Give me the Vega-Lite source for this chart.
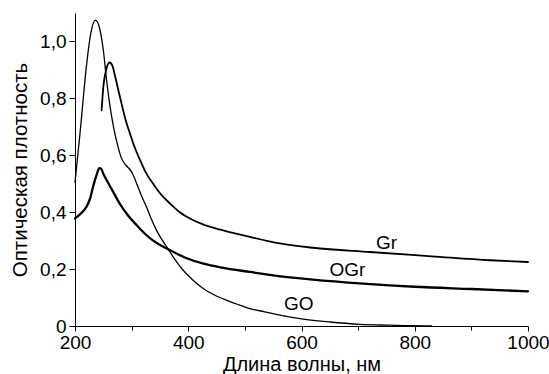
{
  "$schema": "https://vega.github.io/schema/vega-lite/v6.json",
  "width": 453,
  "height": 313,
  "autosize": {"type": "none"},
  "padding": {"left": 75, "top": 13, "right": 21, "bottom": 48},
  "background": "white",
  "config": {
    "view": {"stroke": null},
    "font": "Liberation Sans",
    "axis": {
      "grid": false,
      "domainColor": "black",
      "domainWidth": 1,
      "tickColor": "black",
      "tickWidth": 1,
      "labelColor": "black",
      "titleColor": "black",
      "labelFont": "Liberation Sans",
      "titleFont": "Liberation Sans",
      "labelFontSize": 19,
      "titleFontSize": 20.5,
      "titleFontWeight": "normal"
    }
  },
  "datasets": {
    "curves": [
      {"s": "GO", "x": 200, "y": 0.505},
      {"s": "GO", "x": 209, "y": 0.68},
      {"s": "GO", "x": 220, "y": 0.91},
      {"s": "GO", "x": 228, "y": 1.03},
      {"s": "GO", "x": 236, "y": 1.075},
      {"s": "GO", "x": 243, "y": 1.05},
      {"s": "GO", "x": 250, "y": 0.97},
      {"s": "GO", "x": 256, "y": 0.86},
      {"s": "GO", "x": 262, "y": 0.77},
      {"s": "GO", "x": 268, "y": 0.70},
      {"s": "GO", "x": 274, "y": 0.645},
      {"s": "GO", "x": 282, "y": 0.59},
      {"s": "GO", "x": 290, "y": 0.565},
      {"s": "GO", "x": 297, "y": 0.55},
      {"s": "GO", "x": 303, "y": 0.53},
      {"s": "GO", "x": 309, "y": 0.50},
      {"s": "GO", "x": 318, "y": 0.455},
      {"s": "GO", "x": 327, "y": 0.415},
      {"s": "GO", "x": 335, "y": 0.375},
      {"s": "GO", "x": 344, "y": 0.336},
      {"s": "GO", "x": 353, "y": 0.305},
      {"s": "GO", "x": 362, "y": 0.278},
      {"s": "GO", "x": 376, "y": 0.235},
      {"s": "GO", "x": 391, "y": 0.196},
      {"s": "GO", "x": 408, "y": 0.162},
      {"s": "GO", "x": 427, "y": 0.131},
      {"s": "GO", "x": 447, "y": 0.108},
      {"s": "GO", "x": 468, "y": 0.09},
      {"s": "GO", "x": 490, "y": 0.074},
      {"s": "GO", "x": 509, "y": 0.061},
      {"s": "GO", "x": 535, "y": 0.05},
      {"s": "GO", "x": 562, "y": 0.038},
      {"s": "GO", "x": 600, "y": 0.025},
      {"s": "GO", "x": 650, "y": 0.014},
      {"s": "GO", "x": 703, "y": 0.006},
      {"s": "GO", "x": 751, "y": 0.003},
      {"s": "GO", "x": 800, "y": 0.001},
      {"s": "GO", "x": 830, "y": 0.0},
      {"s": "Gr", "x": 247, "y": 0.758},
      {"s": "Gr", "x": 250, "y": 0.84},
      {"s": "Gr", "x": 255, "y": 0.90},
      {"s": "Gr", "x": 261, "y": 0.926},
      {"s": "Gr", "x": 266, "y": 0.915},
      {"s": "Gr", "x": 271, "y": 0.876},
      {"s": "Gr", "x": 280, "y": 0.80},
      {"s": "Gr", "x": 290, "y": 0.72},
      {"s": "Gr", "x": 297, "y": 0.677},
      {"s": "Gr", "x": 305, "y": 0.63},
      {"s": "Gr", "x": 315, "y": 0.583},
      {"s": "Gr", "x": 325, "y": 0.54},
      {"s": "Gr", "x": 338, "y": 0.50},
      {"s": "Gr", "x": 352, "y": 0.462},
      {"s": "Gr", "x": 368, "y": 0.43},
      {"s": "Gr", "x": 385, "y": 0.40},
      {"s": "Gr", "x": 403, "y": 0.378},
      {"s": "Gr", "x": 425, "y": 0.358},
      {"s": "Gr", "x": 450, "y": 0.342},
      {"s": "Gr", "x": 480, "y": 0.327},
      {"s": "Gr", "x": 509, "y": 0.313},
      {"s": "Gr", "x": 562, "y": 0.29},
      {"s": "Gr", "x": 620, "y": 0.275},
      {"s": "Gr", "x": 721, "y": 0.26},
      {"s": "Gr", "x": 830, "y": 0.245},
      {"s": "Gr", "x": 933, "y": 0.231},
      {"s": "Gr", "x": 1000, "y": 0.225},
      {"s": "OGr", "x": 200, "y": 0.378},
      {"s": "OGr", "x": 210, "y": 0.395},
      {"s": "OGr", "x": 220, "y": 0.418},
      {"s": "OGr", "x": 227, "y": 0.45},
      {"s": "OGr", "x": 232, "y": 0.49},
      {"s": "OGr", "x": 238, "y": 0.53},
      {"s": "OGr", "x": 243, "y": 0.555},
      {"s": "OGr", "x": 246, "y": 0.553},
      {"s": "OGr", "x": 250, "y": 0.535},
      {"s": "OGr", "x": 256, "y": 0.512},
      {"s": "OGr", "x": 265, "y": 0.48},
      {"s": "OGr", "x": 279, "y": 0.43},
      {"s": "OGr", "x": 293, "y": 0.39},
      {"s": "OGr", "x": 309, "y": 0.354},
      {"s": "OGr", "x": 323, "y": 0.325},
      {"s": "OGr", "x": 338, "y": 0.30},
      {"s": "OGr", "x": 352, "y": 0.283},
      {"s": "OGr", "x": 368, "y": 0.266},
      {"s": "OGr", "x": 395, "y": 0.24},
      {"s": "OGr", "x": 427, "y": 0.219},
      {"s": "OGr", "x": 460, "y": 0.205},
      {"s": "OGr", "x": 509, "y": 0.19},
      {"s": "OGr", "x": 550, "y": 0.178},
      {"s": "OGr", "x": 620, "y": 0.163},
      {"s": "OGr", "x": 709, "y": 0.149},
      {"s": "OGr", "x": 800, "y": 0.138},
      {"s": "OGr", "x": 900, "y": 0.13},
      {"s": "OGr", "x": 1000, "y": 0.122}
    ],
    "labels": [
      {"s": "Gr", "x": 750, "y": 0.293},
      {"s": "OGr", "x": 681, "y": 0.196},
      {"s": "GO", "x": 595, "y": 0.076}
    ]
  },
  "layer": [
    {
      "data": {"name": "curves"},
      "mark": {"type": "line", "interpolate": "monotone", "color": "black", "strokeCap": "round", "strokeJoin": "round"},
      "encoding": {
        "x": {
          "field": "x", "type": "quantitative",
          "scale": {"domain": [200, 1000], "nice": false, "zero": false},
          "axis": {
            "title": "Длина волны, нм",
            "titleFontSize": 20,
            "values": [200, 250, 300, 350, 400, 450, 500, 550, 600, 650, 700, 750, 800, 850, 900, 950, 1000],
            "labelExpr": "datum.value % 200 == 0 ? datum.label : ''",
            "format": "d",
            "tickSize": {"condition": {"test": "datum.value % 200 == 0", "value": 5}, "value": 4},
            "labelPadding": 2,
            "titlePadding": 2,
            "labelFlush": false,
            "labelOverlap": false
          }
        },
        "y": {
          "field": "y", "type": "quantitative",
          "scale": {"domain": [0, 1.1], "nice": false},
          "axis": {
            "title": "Оптическая плотность",
            "values": [0, 0.1, 0.2, 0.3, 0.4, 0.5, 0.6, 0.7, 0.8, 0.9, 1.0, 1.1],
            "labelExpr": "round(datum.value*10) % 2 == 0 ? (datum.value == 0 ? '0' : replace(format(datum.value, '.1f'), '.', ',')) : ''",
            "tickSize": {"condition": {"test": "round(datum.value*10) % 2 == 0", "value": 6}, "value": 3},
            "labelPadding": 3,
            "titlePadding": 9,
            "labelFlush": false,
            "labelOverlap": false
          }
        },
        "detail": {"field": "s"},
        "strokeWidth": {
          "field": "s", "type": "nominal",
          "scale": {"domain": ["GO", "Gr", "OGr"], "range": [1.3, 2.3, 4]},
          "legend": null
        }
      }
    },
    {
      "data": {"name": "labels"},
      "mark": {"type": "text", "font": "Liberation Sans", "fontSize": 19, "color": "black", "align": "center", "baseline": "middle"},
      "encoding": {
        "x": {"field": "x", "type": "quantitative"},
        "y": {"field": "y", "type": "quantitative"},
        "text": {"field": "s"}
      }
    }
  ]
}
